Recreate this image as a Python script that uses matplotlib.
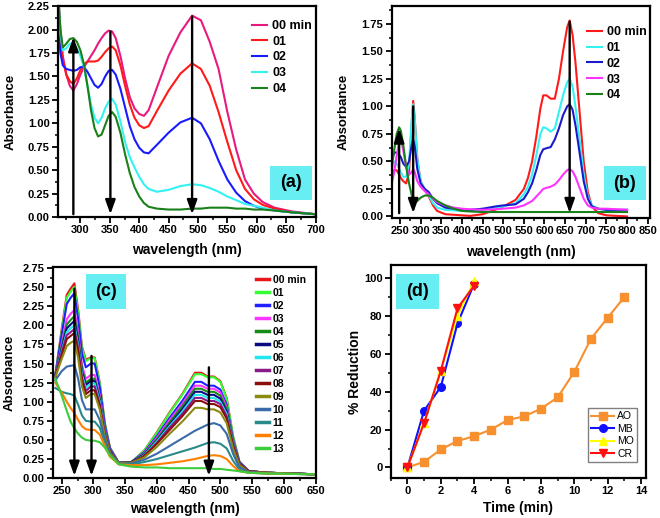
import numpy as np
import matplotlib
matplotlib.use('Agg')
import matplotlib.pyplot as plt
from matplotlib.patches import Rectangle
from matplotlib.ticker import MultipleLocator, FormatStrFormatter

plt.rcParams['font.family'] = ['Liberation Sans', 'DejaVu Sans']
plt.rcParams['font.weight'] = 'bold'
plt.rcParams['axes.labelweight'] = 'bold'

# ---------------- panel (a) ----------------
wl_a = [263, 266, 270, 276, 282, 288, 294, 300, 306, 312, 318, 324, 330, 336, 342, 348, 354, 360,
        368, 376, 384, 392, 400, 408, 416, 430, 450, 470, 490, 505, 520, 535, 550, 565, 580, 595,
        610, 630, 660, 700]
a_00 = [2.30, 2.00, 1.72, 1.52, 1.40, 1.35, 1.42, 1.52, 1.60, 1.66, 1.72, 1.78, 1.85, 1.91, 1.96, 1.99, 1.98, 1.91,
        1.72, 1.48, 1.28, 1.16, 1.10, 1.08, 1.14, 1.38, 1.72, 1.97, 2.15, 2.10, 1.87, 1.58, 1.12, 0.72, 0.40, 0.25,
        0.16, 0.10, 0.06, 0.03]
a_01 = [2.05, 1.85, 1.68, 1.52, 1.45, 1.42, 1.48, 1.57, 1.63, 1.66, 1.66, 1.66, 1.67, 1.71, 1.76, 1.80, 1.82, 1.78,
        1.62, 1.40, 1.20, 1.06, 0.98, 0.95, 0.97, 1.13, 1.35, 1.53, 1.64, 1.58, 1.40, 1.12, 0.80, 0.50, 0.30, 0.19,
        0.13, 0.09, 0.05, 0.03]
a_02 = [1.95, 1.75, 1.62, 1.58, 1.57, 1.56, 1.57, 1.60, 1.60, 1.55, 1.48, 1.41, 1.38, 1.42, 1.50, 1.56, 1.57, 1.52,
        1.37, 1.17, 0.97, 0.83, 0.74, 0.69, 0.68, 0.77, 0.90, 1.01, 1.06, 1.00, 0.83, 0.60, 0.40, 0.26, 0.17, 0.12,
        0.09, 0.07, 0.05, 0.03]
a_03 = [2.30, 1.95, 1.78, 1.80, 1.85, 1.85, 1.80, 1.72, 1.60, 1.40, 1.20, 1.06, 1.00, 1.06, 1.16, 1.23, 1.26, 1.20,
        1.02, 0.80, 0.64, 0.53, 0.43, 0.35, 0.30, 0.27, 0.29, 0.33, 0.35, 0.34, 0.31, 0.27, 0.22, 0.18, 0.14, 0.12,
        0.10, 0.07, 0.05, 0.03]
a_04 = [2.30, 2.00, 1.81, 1.85, 1.90, 1.91, 1.87, 1.78, 1.63, 1.40, 1.14, 0.95, 0.86, 0.88, 0.98, 1.08, 1.12, 1.07,
        0.90, 0.67, 0.47, 0.32, 0.22, 0.15, 0.11, 0.09, 0.08, 0.08, 0.09, 0.09, 0.10, 0.10, 0.10, 0.09, 0.09, 0.08,
        0.08, 0.07, 0.05, 0.03]
labels_a = ['00 min', '01', '02', '03', '04']
colors_a = ['#e8197f', '#ff1a1a', '#1a1aff', '#33f2f2', '#1a801a']
arrow_a_x = [288, 351, 490]
arrow_a_from = [0.03, 1.98, 2.14]
arrow_a_to = [1.92, 0.03, 0.03]

# ---------------- panel (b) ----------------
wl_b = [230, 236, 242, 248, 252, 258, 265, 272, 278, 282, 286, 292, 300, 310, 320, 330, 340, 360, 380, 400,
        420, 450, 480, 500, 530, 550, 560, 570, 580, 590, 597, 605, 615, 625, 635, 645, 655, 661, 668, 675,
        685, 695, 705, 715, 730, 750, 800]
b_00 = [0.38, 0.42, 0.42, 0.38, 0.35, 0.32, 0.30, 0.40, 0.82, 1.05, 0.88, 0.52, 0.32, 0.24, 0.18, 0.10, 0.05, 0.02, 0.015, 0.01,
        0.005, 0.02, 0.06, 0.09, 0.15, 0.25, 0.35, 0.50, 0.72, 0.98, 1.10, 1.10, 1.07, 1.07, 1.25, 1.50, 1.72, 1.78, 1.65, 1.40,
        0.95, 0.50, 0.22, 0.09, 0.03, 0.01, 0.00]
b_01 = [0.42, 0.50, 0.48, 0.43, 0.40, 0.36, 0.36, 0.48, 0.86, 1.02, 0.87, 0.52, 0.32, 0.25, 0.19, 0.12, 0.08, 0.06, 0.055, 0.05,
        0.05, 0.06, 0.08, 0.09, 0.12, 0.20, 0.27, 0.38, 0.55, 0.75, 0.81, 0.80, 0.77, 0.80, 0.95, 1.10, 1.22, 1.25, 1.18, 1.00,
        0.70, 0.38, 0.18, 0.10, 0.07, 0.06, 0.05]
b_02 = [0.50, 0.58, 0.58, 0.56, 0.54, 0.48, 0.45, 0.50, 0.64, 0.70, 0.63, 0.43, 0.30, 0.25, 0.22, 0.16, 0.12, 0.08, 0.07, 0.06,
        0.06, 0.07, 0.09, 0.10, 0.11, 0.16, 0.22, 0.30, 0.42, 0.56, 0.61, 0.62, 0.63, 0.70, 0.80, 0.92, 1.00, 1.02, 0.97, 0.83,
        0.58, 0.32, 0.16, 0.09, 0.07, 0.06, 0.06]
b_03 = [0.30, 0.40, 0.55, 0.68, 0.70, 0.60, 0.45, 0.38, 0.40, 0.43, 0.40, 0.32, 0.27, 0.23, 0.20, 0.16, 0.13, 0.10, 0.08, 0.07,
        0.065, 0.06, 0.065, 0.07, 0.08, 0.10, 0.12, 0.14, 0.18, 0.22, 0.25, 0.26, 0.27, 0.29, 0.33, 0.38, 0.42, 0.43, 0.41, 0.36,
        0.26, 0.16, 0.10, 0.08, 0.07, 0.07, 0.06]
b_04 = [0.45, 0.60, 0.75, 0.81, 0.78, 0.65, 0.45, 0.30, 0.20, 0.15, 0.13, 0.14, 0.17, 0.19, 0.19, 0.17, 0.14, 0.10, 0.07, 0.05,
        0.045, 0.04, 0.04, 0.04, 0.04, 0.04, 0.04, 0.04, 0.04, 0.04, 0.04, 0.04, 0.04, 0.04, 0.04, 0.04, 0.04, 0.04, 0.04, 0.04,
        0.04, 0.04, 0.04, 0.04, 0.04, 0.04, 0.04]
labels_b = ['00 min', '01', '02', '03', '04']
colors_b = ['#ff1a1a', '#33f2f2', '#1a1acc', '#ff33ff', '#1a801a']
arrow_b_x = [248, 282, 661]
arrow_b_from = [0.03, 1.00, 1.77]
arrow_b_to = [0.80, 0.03, 0.03]

# ---------------- panel (c) ----------------
wl_c = [240, 250, 258, 264, 270, 276, 282, 288, 296, 302, 310, 318, 326, 340, 360, 380, 400, 420, 440,
        460, 470, 480, 490, 500, 510, 520, 530, 545, 575, 650]
c_series = [
    [1.35, 1.95, 2.40, 2.48, 2.55, 2.20, 1.72, 1.55, 1.58, 1.58, 1.25, 0.72, 0.40, 0.20, 0.21, 0.36, 0.60, 0.86, 1.10, 1.38, 1.38, 1.33, 1.33, 1.27, 1.05, 0.55, 0.22, 0.09, 0.07, 0.05],
    [1.35, 1.92, 2.36, 2.44, 2.50, 2.16, 1.70, 1.53, 1.57, 1.57, 1.24, 0.71, 0.40, 0.20, 0.21, 0.36, 0.59, 0.85, 1.09, 1.36, 1.36, 1.32, 1.32, 1.26, 1.04, 0.55, 0.22, 0.09, 0.07, 0.05],
    [1.35, 1.88, 2.28, 2.36, 2.42, 2.08, 1.63, 1.45, 1.50, 1.50, 1.19, 0.69, 0.39, 0.20, 0.21, 0.34, 0.55, 0.79, 1.01, 1.26, 1.26, 1.21, 1.21, 1.16, 0.96, 0.51, 0.21, 0.09, 0.07, 0.05],
    [1.34, 1.76, 2.08, 2.15, 2.20, 1.90, 1.48, 1.30, 1.35, 1.35, 1.08, 0.64, 0.37, 0.20, 0.21, 0.33, 0.53, 0.76, 0.97, 1.21, 1.21, 1.17, 1.17, 1.12, 0.93, 0.49, 0.21, 0.09, 0.07, 0.05],
    [1.34, 1.72, 2.01, 2.07, 2.12, 1.84, 1.43, 1.25, 1.30, 1.30, 1.05, 0.62, 0.36, 0.20, 0.21, 0.32, 0.51, 0.73, 0.94, 1.17, 1.17, 1.13, 1.13, 1.08, 0.90, 0.48, 0.20, 0.09, 0.07, 0.05],
    [1.34, 1.69, 1.96, 2.01, 2.06, 1.79, 1.39, 1.22, 1.27, 1.27, 1.02, 0.61, 0.36, 0.20, 0.21, 0.31, 0.49, 0.70, 0.90, 1.13, 1.13, 1.09, 1.09, 1.04, 0.87, 0.46, 0.20, 0.09, 0.07, 0.05],
    [1.33, 1.66, 1.91, 1.96, 2.00, 1.74, 1.35, 1.18, 1.24, 1.24, 1.00, 0.60, 0.35, 0.20, 0.20, 0.30, 0.48, 0.68, 0.87, 1.09, 1.09, 1.05, 1.05, 1.00, 0.84, 0.45, 0.19, 0.09, 0.07, 0.05],
    [1.33, 1.64, 1.87, 1.91, 1.95, 1.70, 1.31, 1.14, 1.20, 1.20, 0.97, 0.58, 0.35, 0.20, 0.20, 0.29, 0.46, 0.66, 0.84, 1.05, 1.05, 1.01, 1.01, 0.97, 0.81, 0.44, 0.19, 0.09, 0.07, 0.05],
    [1.33, 1.61, 1.82, 1.86, 1.90, 1.66, 1.27, 1.10, 1.15, 1.15, 0.94, 0.57, 0.34, 0.20, 0.20, 0.29, 0.45, 0.63, 0.81, 1.01, 1.01, 0.97, 0.97, 0.93, 0.78, 0.42, 0.18, 0.09, 0.07, 0.05],
    [1.32, 1.56, 1.73, 1.77, 1.80, 1.57, 1.20, 1.05, 1.10, 1.10, 0.90, 0.55, 0.33, 0.20, 0.20, 0.27, 0.41, 0.58, 0.74, 0.92, 0.92, 0.90, 0.90, 0.86, 0.72, 0.39, 0.17, 0.08, 0.07, 0.05],
    [1.28, 1.40, 1.46, 1.47, 1.48, 1.30, 1.02, 0.90, 0.90, 0.90, 0.76, 0.50, 0.31, 0.19, 0.19, 0.24, 0.32, 0.42, 0.52, 0.62, 0.66, 0.70, 0.72, 0.69, 0.58, 0.32, 0.14, 0.08, 0.06, 0.05],
    [1.18, 1.13, 1.11, 1.10, 1.08, 0.96, 0.82, 0.75, 0.74, 0.74, 0.66, 0.46, 0.30, 0.19, 0.18, 0.21, 0.25, 0.30, 0.35, 0.40, 0.43, 0.46, 0.47, 0.45, 0.39, 0.23, 0.11, 0.07, 0.06, 0.05],
    [1.25, 1.12, 1.00, 0.92, 0.85, 0.76, 0.68, 0.64, 0.63, 0.63, 0.57, 0.42, 0.28, 0.18, 0.17, 0.17, 0.18, 0.20, 0.22, 0.25, 0.27, 0.29, 0.30, 0.29, 0.25, 0.16, 0.09, 0.07, 0.06, 0.05],
    [1.30, 1.08, 0.88, 0.74, 0.65, 0.58, 0.53, 0.50, 0.49, 0.49, 0.47, 0.40, 0.30, 0.18, 0.15, 0.14, 0.14, 0.13, 0.13, 0.13, 0.13, 0.13, 0.12, 0.12, 0.11, 0.10, 0.09, 0.07, 0.06, 0.05],
]
labels_c = ['00 min', '01', '02', '03', '04', '05', '06', '07', '08', '09', '10', '11', '12', '13']
colors_c = ['#e8161b', '#33ff33', '#1f1fff', '#ff33ff', '#158a15', '#0b0b80', '#22e6f0',
            '#8a1a8a', '#8b0e0e', '#8a8a10', '#3a6aa8', '#2a8a8a', '#ff8000', '#3ccc3c']
arrow_c_x = [270, 297, 482]
arrow_c_from = [2.48, 1.60, 1.45]
arrow_c_to = [0.03, 0.03, 0.03]

# ---------------- panel (d) ----------------
t_ao = [0, 1, 2, 3, 4, 5, 6, 7, 8, 9, 10, 11, 12, 13]
red_ao = [0, 3, 9.5, 14, 16.5, 20, 25, 27, 31, 37, 50.5, 68, 79, 90]
t_dye = [0, 1, 2, 3, 4]
red_mb = [0, 30, 42.5, 76, 97]
red_mo = [0, 23.5, 51, 80, 98.5]
red_cr = [0, 23.5, 51, 84, 96]

fig = plt.figure(figsize=(6.6, 5.18), dpi=100)


def style_axes(ax, xmaj, ymaj, yfmt):
    for s in ax.spines.values():
        s.set_linewidth(1.6)
    ax.xaxis.set_major_locator(MultipleLocator(xmaj))
    ax.xaxis.set_minor_locator(MultipleLocator(xmaj / 2))
    ax.yaxis.set_major_locator(MultipleLocator(ymaj))
    ax.yaxis.set_minor_locator(MultipleLocator(ymaj / 2))
    if yfmt:
        ax.yaxis.set_major_formatter(FormatStrFormatter(yfmt))
    ax.tick_params(which='major', direction='out', length=4, width=1.3, labelsize=8, pad=2)
    ax.tick_params(which='minor', direction='out', length=2.5, width=1.1)
    ax.tick_params(top=False, right=False, which='both')


def labels(ax, xl, yl, xpos, ypos, yfs=9.5):
    ax.set_xlabel(xl, fontsize=10, va='center')
    ax.set_ylabel(yl, fontsize=yfs, va='center')
    ax.xaxis.set_label_coords(0.5, xpos)
    ax.yaxis.set_label_coords(ypos, 0.5)


def tag(ax, text, x0, y0, w, h):
    ax.add_patch(Rectangle((x0, y0), w, h, transform=ax.transAxes, facecolor='#66eef2',
                           edgecolor='none', zorder=5))
    ax.text(x0 + w / 2, y0 + h / 2, text, transform=ax.transAxes, ha='center', va='center',
            fontsize=13, fontweight='bold', zorder=6)


def arrows(ax, xs, froms, tos):
    for x, f, t in zip(xs, froms, tos):
        ax.annotate('', xy=(x, t), xytext=(x, f),
                    arrowprops=dict(arrowstyle='-|>,head_length=0.7,head_width=0.25', color='k',
                                    lw=1.7, mutation_scale=12, shrinkA=0, shrinkB=0), zorder=4)


# (a)
ax = fig.add_axes([0.088, 0.581, 0.391, 0.407])
for ys, lab, c in zip([a_00, a_01, a_02, a_03, a_04], labels_a, colors_a):
    ax.plot(wl_a, ys, color=c, lw=1.5, label=lab)
arrows(ax, arrow_a_x, arrow_a_from, arrow_a_to)
ax.set_xlim(262, 701)
ax.set_ylim(0, 2.25)
style_axes(ax, 50, 0.25, '%.2f')
labels(ax, 'wavelength (nm)', 'Absorbance', -0.158, -0.185)
ax.legend(loc='upper left', bbox_to_anchor=(0.752, 0.935), frameon=False, fontsize=9,
          handlelength=1.2, handletextpad=0.4, labelspacing=0.3, borderpad=0, borderaxespad=0)
tag(ax, '(a)', 0.822, 0.081, 0.162, 0.161)

# (b)
ax = fig.add_axes([0.5935, 0.579, 0.391, 0.409])
for ys, lab, c in zip([b_00, b_01, b_02, b_03, b_04], labels_b, colors_b):
    ax.plot(wl_b, ys, color=c, lw=1.5, label=lab)
arrows(ax, arrow_b_x, arrow_b_from, arrow_b_to)
ax.set_xlim(230, 855)
ax.set_ylim(-0.015, 1.91)
style_axes(ax, 50, 0.25, '%.2f')
labels(ax, 'wavelength (nm)', 'Absorbance', -0.158, -0.185)
ax.legend(loc='upper left', bbox_to_anchor=(0.756, 0.905), frameon=False, fontsize=9,
          handlelength=1.2, handletextpad=0.4, labelspacing=0.3, borderpad=0, borderaxespad=0)
tag(ax, '(b)', 0.822, 0.085, 0.163, 0.160)

# (c)
ax = fig.add_axes([0.080, 0.077, 0.399, 0.407])
for ys, lab, c in zip(c_series, labels_c, colors_c):
    ax.plot(wl_c, ys, color=c, lw=1.5, label=lab)
arrows(ax, arrow_c_x, arrow_c_from, arrow_c_to)
ax.set_xlim(236, 651)
ax.set_ylim(0, 2.76)
style_axes(ax, 50, 0.25, '%.2f')
labels(ax, 'wavelength (nm)', 'Absorbance', -0.145, -0.163)
leg = ax.legend(loc='upper left', bbox_to_anchor=(0.772, 0.965), frameon=False, fontsize=7.5,
                handlelength=1.2, handletextpad=0.4, labelspacing=0.29, borderpad=0, borderaxespad=0)
for h in leg.get_lines():
    h.set_linewidth(2.5)
tag(ax, '(c)', 0.125, 0.801, 0.153, 0.166)

# (d)
ax = fig.add_axes([0.592, 0.077, 0.387, 0.411])
ax.plot(t_ao, red_ao, color='#f7902e', lw=1.5, marker='s', ms=5.5, label='AO')
ax.plot(t_dye, red_mb, color='#1010ff', lw=1.5, marker='o', ms=5.5, label='MB')
ax.plot(t_dye, red_mo, color='#ffff00', lw=1.5, marker='^', ms=6, label='MO')
ax.plot(t_dye, red_cr, color='#ff1010', lw=1.5, marker='v', ms=6, label='CR')
ax.set_xlim(-1, 14.3)
ax.set_ylim(-5.6, 106.7)
style_axes(ax, 2, 20, None)
labels(ax, 'Time (min)', '% Reduction', -0.14, -0.141, yfs=10)
ax.legend(loc='lower right', bbox_to_anchor=(0.965, 0.075), prop={'weight': 'normal', 'size': 7.5},
          frameon=True, fancybox=False, edgecolor='#808080', framealpha=1, borderaxespad=0,
          handlelength=2.2, handletextpad=0.3, labelspacing=0.25, borderpad=0.3)
tag(ax, '(d)', 0.02, 0.793, 0.168, 0.165)

fig.savefig('out.png', dpi=100)
